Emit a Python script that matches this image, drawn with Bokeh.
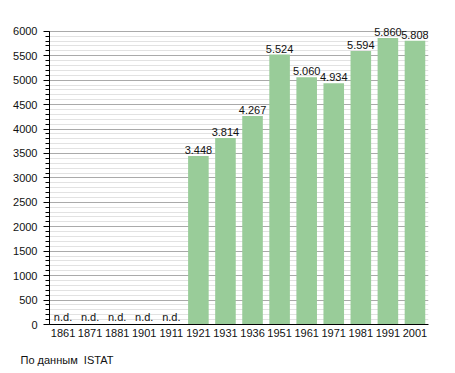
from bokeh.plotting import figure
from bokeh.models import ColumnDataSource, LabelSet, FixedTicker, Range1d, Title
from bokeh.core.properties import value
from bokeh.embed import file_html
from bokeh.resources import INLINE

years = ["1861", "1871", "1881", "1901", "1911", "1921", "1931", "1936",
         "1951", "1961", "1971", "1981", "1991", "2001"]
population = [0, 0, 0, 0, 0, 3448, 3814, 4267, 5524, 5060, 4934, 5594, 5860, 5808]
labels = ["n.d.", "n.d.", "n.d.", "n.d.", "n.d.", "3.448", "3.814", "4.267",
          "5.524", "5.060", "4.934", "5.594", "5.860", "5.808"]
y_ticks = list(range(0, 6001, 500))
y_minor = list(range(0, 6001, 100))
source_note = "По данным\u00a0 ISTAT"

FONT = "Liberation Sans"
GREEN = "#99cc99"

has = [v > 0 for v in population]
bar_src = ColumnDataSource(dict(
    x=[y for y, h in zip(years, has) if h],
    top=[v for v, h in zip(population, has) if h],
    lab=[l for l, h in zip(labels, has) if h],
))
nd_src = ColumnDataSource(dict(
    x=[y for y, h in zip(years, has) if not h],
    y=[0 for h in has if not h],
    lab=[l for l, h in zip(labels, has) if not h],
))

p = figure(x_range=years, y_range=Range1d(0, 6200),
           frame_width=379, frame_height=303,
           min_border_left=49, min_border_top=21, min_border_right=19, min_border_bottom=10,
           output_backend="svg", toolbar_location=None, tools="")
p.outline_line_color = None
p.background_fill_color = "white"
p.border_fill_color = "white"

p.vbar(x="x", top="top", width=0.76, source=bar_src,
       fill_color=GREEN, line_color=None)

p.add_layout(LabelSet(x="x", y="top", text="lab", source=bar_src,
                      text_align="center", text_baseline="bottom", y_offset=2,
                      text_font=value(FONT), text_font_size=value("11px"),
                      text_color="#111111"))
p.add_layout(LabelSet(x="x", y="y", text="lab", source=nd_src,
                      text_align="center", text_baseline="bottom", y_offset=2,
                      text_font=value(FONT), text_font_size=value("11px"),
                      text_color="#111111"))

# y axis
p.yaxis.ticker = FixedTicker(ticks=y_ticks, minor_ticks=y_minor)
p.yaxis.bounds = (0, 6000)
p.yaxis.major_label_text_font = FONT
p.yaxis.major_label_text_font_size = "11px"
p.yaxis.major_label_text_color = "#111111"
p.yaxis.axis_line_color = "black"
p.yaxis.major_tick_line_color = "black"
p.yaxis.minor_tick_line_color = "black"
p.yaxis.major_tick_out = 6
p.yaxis.major_tick_in = 0
p.yaxis.minor_tick_out = 4
p.yaxis.minor_tick_in = 0
p.yaxis.major_label_standoff = 6

# x axis
p.xaxis.major_label_text_font = FONT
p.xaxis.major_label_text_font_size = "11px"
p.xaxis.major_label_text_color = "#111111"
p.xaxis.axis_line_color = "black"
p.xaxis.major_tick_line_color = None
p.xaxis.minor_tick_line_color = None
p.xaxis.major_tick_out = 0
p.xaxis.major_label_standoff = 4

# grid
p.xgrid.grid_line_color = None
p.ygrid.grid_line_color = "#aaaaaa"
p.ygrid.grid_line_width = 1
p.ygrid.minor_grid_line_color = "#e2e2e2"
p.ygrid.level = "underlay"

note = Title(text=source_note, align="left", offset=-29, standoff=24,
             text_font=FONT, text_font_size="11px", text_font_style="normal",
             text_color="#111111")
p.add_layout(note, "below")

open("out.html", "w").write(file_html(p, INLINE))
